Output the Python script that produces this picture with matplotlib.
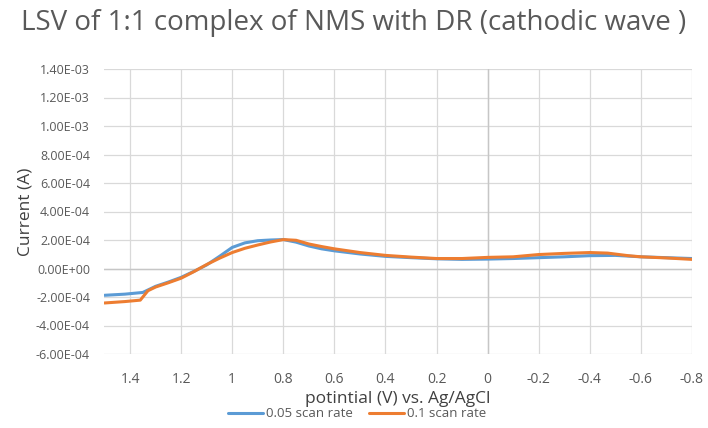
import numpy as np
import matplotlib.pyplot as plt

# potential (V) vs. Ag/AgCl and current (A)
pot_005 = [1.50, 1.42, 1.35, 1.30, 1.25, 1.20, 1.15, 1.10, 1.05, 1.00, 0.95, 0.90,
           0.85, 0.80, 0.75, 0.70, 0.65, 0.60, 0.50, 0.40, 0.30, 0.20, 0.10, 0.00,
           -0.10, -0.20, -0.30, -0.40, -0.50, -0.60, -0.70, -0.80]
cur_005 = [-1.88e-4, -1.80e-4, -1.68e-4, -1.25e-4, -0.95e-4, -0.62e-4, -0.20e-4, 0.25e-4,
           0.85e-4, 1.48e-4, 1.80e-4, 1.95e-4, 2.00e-4, 2.03e-4, 1.85e-4, 1.58e-4,
           1.38e-4, 1.24e-4, 1.02e-4, 0.85e-4, 0.76e-4, 0.68e-4, 0.64e-4, 0.66e-4,
           0.70e-4, 0.76e-4, 0.82e-4, 0.90e-4, 0.92e-4, 0.82e-4, 0.76e-4, 0.70e-4]

pot_01 = [1.50, 1.42, 1.36, 1.33, 1.30, 1.25, 1.20, 1.15, 1.10, 1.05, 1.00, 0.95, 0.90,
          0.85, 0.80, 0.75, 0.70, 0.65, 0.60, 0.50, 0.40, 0.30, 0.20, 0.10, 0.00,
          -0.10, -0.20, -0.30, -0.40, -0.47, -0.55, -0.60, -0.70, -0.80]
cur_01 = [-2.42e-4, -2.32e-4, -2.22e-4, -1.56e-4, -1.30e-4, -1.00e-4, -0.68e-4, -0.22e-4,
          0.28e-4, 0.72e-4, 1.12e-4, 1.42e-4, 1.65e-4, 1.86e-4, 2.03e-4, 1.98e-4,
          1.72e-4, 1.54e-4, 1.38e-4, 1.12e-4, 0.92e-4, 0.80e-4, 0.70e-4, 0.70e-4,
          0.78e-4, 0.82e-4, 0.98e-4, 1.06e-4, 1.12e-4, 1.08e-4, 0.90e-4, 0.82e-4,
          0.74e-4, 0.64e-4]

x_ticks = [1.4, 1.2, 1.0, 0.8, 0.6, 0.4, 0.2, 0.0, -0.2, -0.4, -0.6, -0.8]
x_tick_labels = ['1.4', '1.2', '1', '0.8', '0.6', '0.4', '0.2', '0', '-0.2', '-0.4', '-0.6', '-0.8']
y_ticks = [-6e-4, -4e-4, -2e-4, 0, 2e-4, 4e-4, 6e-4, 8e-4, 1e-3, 1.2e-3, 1.4e-3]

plt.rcParams['font.family'] = ['Open Sans', 'DejaVu Sans']
grey = '#595959'

fig = plt.figure(figsize=(7.08, 4.28), dpi=100)
ax = fig.add_axes([104 / 708, 1 - 354 / 428, (692 - 104) / 708, (354 - 69) / 428])

ax.plot(pot_005, cur_005, color='#5B9BD5', lw=2.2, label='0.05 scan rate', solid_capstyle='round')
ax.plot(pot_01, cur_01, color='#ED7D31', lw=2.2, label='0.1 scan rate', solid_capstyle='round')

ax.set_xlim(1.502, -0.8)
ax.set_ylim(-6e-4, 1.4e-3)
ax.set_xticks(x_ticks)
ax.set_xticklabels(x_tick_labels)
ax.set_yticks(y_ticks)
ax.set_yticklabels(['%.2E' % v for v in y_ticks])
ax.grid(True, color='#d9d9d9', lw=0.9)
ax.set_axisbelow(True)
ax.axhline(0, color='#c6c6c6', lw=1.0, zorder=1)
ax.axvline(0, color='#c6c6c6', lw=1.0, zorder=1)
for s in ax.spines.values():
    s.set_visible(False)
ax.tick_params(axis='y', length=0, colors=grey, labelsize=9, pad=10)
ax.tick_params(axis='x', length=0, colors=grey, labelsize=10, pad=13)

ax.set_xlabel('potintial (V) vs. Ag/AgCl', fontsize=12.5, color='#404040', labelpad=3)
ax.set_ylabel('Current (A)', fontsize=12.5, color='#404040', labelpad=2)
fig.suptitle('LSV of 1:1 complex of NMS with DR (cathodic wave )', fontsize=20,
             color=grey, y=0.98, x=0.5)

ax.legend(loc='center', bbox_to_anchor=(0.43, -0.21), ncol=2, frameon=False,
          fontsize=9.5, labelcolor=grey, handlelength=2.7, handletextpad=0.2,
          columnspacing=1.2, borderpad=0.1)

fig.savefig('out.png', dpi=100)
